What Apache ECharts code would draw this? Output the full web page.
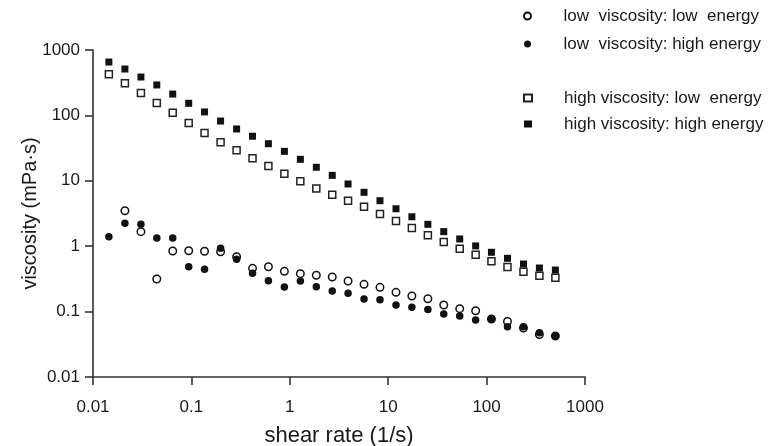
<!DOCTYPE html>
<html>
<head>
<meta charset="utf-8">
<script src="https://cdn.jsdelivr.net/npm/echarts@6/dist/echarts.min.js"></script>
<style>
html,body{margin:0;padding:0;background:#fff;}
#chart{width:778px;height:446px;}
</style>
</head>
<body>
<div id="chart"></div>
<script>
// shear rate (1/s)
var shearRate = [0.0145, 0.0211, 0.0307, 0.0445, 0.0646, 0.0939, 0.136, 0.198, 0.288, 0.418,
  0.606, 0.881, 1.28, 1.86, 2.70, 3.91, 5.68, 8.25, 12.0, 17.4,
  25.3, 36.7, 53.3, 77.4, 112, 163, 237, 344, 500];

// viscosity (mPa·s)
var lowViscLowEnergy = [null, 3.49, 1.67, 0.315, 0.845, 0.853, 0.836, 0.824, 0.691, 0.459,
  0.486, 0.413, 0.380, 0.359, 0.338, 0.294, 0.261, 0.235, 0.197, 0.173,
  0.157, 0.126, 0.111, 0.103, 0.077, 0.0706, 0.0561, 0.0447, 0.0424];

var lowViscHighEnergy = [1.40, 2.24, 2.16, 1.33, 1.33, 0.486, 0.444, 0.929, 0.631, 0.385,
  0.297, 0.238, 0.294, 0.240, 0.206, 0.190, 0.156, 0.152, 0.126, 0.117,
  0.108, 0.0919, 0.0857, 0.0744, 0.0762, 0.0587, 0.0587, 0.0475, 0.0428];

var highViscLowEnergy = [425, 310, 220, 155, 110, 76.5, 53.8, 38.8, 29.3, 22.1,
  16.8, 12.8, 9.82, 7.62, 6.13, 4.96, 4.02, 3.11, 2.43, 1.90,
  1.47, 1.16, 0.916, 0.741, 0.587, 0.481, 0.408, 0.354, 0.330];

var highViscHighEnergy = [655, 512, 386, 292, 212, 153, 113, 82, 62, 48,
  36.9, 28.2, 21.3, 16.1, 12.1, 8.94, 6.67, 4.96, 3.74, 2.82,
  2.16, 1.67, 1.29, 1.01, 0.807, 0.653, 0.534, 0.464, 0.432];

var seriesNames = ['low  viscosity: low  energy', 'low  viscosity: high energy',
  'high viscosity: low  energy', 'high viscosity: high energy'];

var tickLabels = ['0.01', '0.1', '1', '10', '100', '1000'];

function pairs(ys) {
  var out = [];
  for (var i = 0; i < shearRate.length; i++) {
    if (ys[i] != null) out.push([shearRate[i], ys[i]]);
  }
  return out;
}

function fmt(v) {
  var e = Math.round(Math.log10(v));
  return tickLabels[e + 2] !== undefined ? tickLabels[e + 2] : String(v);
}

var FONT = "'Liberation Sans', Arial, sans-serif";
var INK = '#1a1a1a';

var chart = echarts.init(document.getElementById('chart'), null, {renderer: 'canvas'});

var axisCommon = {
  type: 'log',
  logBase: 10,
  min: 0.01,
  max: 1000,
  splitLine: {show: false},
  minorTick: {show: false},
  axisLine: {show: true, lineStyle: {color: '#333', width: 1.6}},
  axisTick: {show: true, length: 8, lineStyle: {color: '#333', width: 1.6}},
  axisLabel: {color: INK, fontSize: 17, fontFamily: FONT, formatter: fmt},
  nameLocation: 'middle',
  nameMoveOverlap: false,
  nameTextStyle: {color: INK, fontSize: 21, fontFamily: FONT}
};

var legendCommon = {
  orient: 'vertical',
  left: 518,
  itemWidth: 8, itemHeight: 7,
  textStyle: {color: INK, fontSize: 17, fontFamily: FONT, lineHeight: 18, padding: [0, 0, 0, 27]},
  selectedMode: false
};

chart.setOption({
  animation: false,
  backgroundColor: '#fff',
  grid: {left: 93, right: 193, top: 50, bottom: 69, containLabel: false, outerBoundsMode: 'none'},
  xAxis: Object.assign({}, axisCommon, {
    name: 'shear rate (1/s)',
    nameGap: 48,
    nameTextStyle: {color: INK, fontSize: 22, fontFamily: FONT},
    axisLabel: Object.assign({}, axisCommon.axisLabel, {margin: 22})
  }),
  yAxis: Object.assign({}, axisCommon, {
    name: 'viscosity (mPa·s)',
    nameGap: 53,
    nameTextStyle: {color: INK, fontSize: 20, fontFamily: FONT},
    axisLabel: Object.assign({}, axisCommon.axisLabel, {margin: 13})
  }),
  legend: [
    Object.assign({}, legendCommon, {data: [seriesNames[0], seriesNames[1]], top: 2, itemGap: 10}),
    Object.assign({}, legendCommon, {data: [seriesNames[2], seriesNames[3]], top: 84, itemGap: 8})
  ],
  series: [
    {
      name: seriesNames[0], type: 'scatter', symbol: 'circle', symbolSize: 7.5,
      itemStyle: {color: '#fff', borderColor: '#111', borderWidth: 1.5, opacity: 1},
      data: pairs(lowViscLowEnergy)
    },
    {
      name: seriesNames[1], type: 'scatter', symbol: 'circle', symbolSize: 7.5,
      itemStyle: {color: '#111', borderColor: '#111', borderWidth: 0, opacity: 1},
      data: pairs(lowViscHighEnergy)
    },
    {
      name: seriesNames[2], type: 'scatter', symbol: 'rect', symbolSize: 7,
      itemStyle: {color: '#fff', borderColor: '#222', borderWidth: 1.5, opacity: 1},
      data: pairs(highViscLowEnergy)
    },
    {
      name: seriesNames[3], type: 'scatter', symbol: 'rect', symbolSize: 7,
      itemStyle: {color: '#111', borderColor: '#111', borderWidth: 0, opacity: 1},
      data: pairs(highViscHighEnergy)
    }
  ]
});
</script>
</body>
</html>
